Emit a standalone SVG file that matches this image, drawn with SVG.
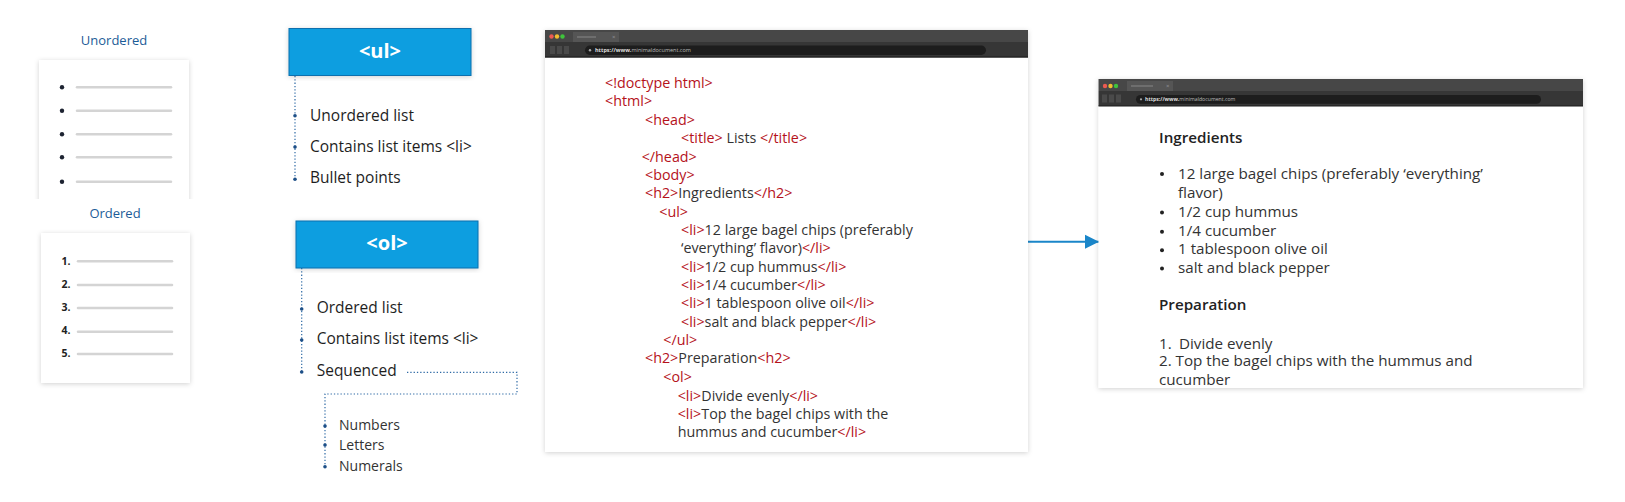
<svg xmlns="http://www.w3.org/2000/svg" width="1625" height="502" viewBox="0 0 1625 502">
<defs>
<style>
.lbl{font-family:"Open Sans","Liberation Sans",sans-serif;font-size:13px;fill:#1c5c97;text-anchor:middle}
.item{font-family:"Open Sans","Liberation Sans",sans-serif;font-size:15.5px;fill:#1e1e1e}
.sub{font-family:"Open Sans","Liberation Sans",sans-serif;font-size:14px;fill:#333}
.tag{font-family:"Open Sans","Liberation Sans",sans-serif;font-size:20px;font-weight:bold;fill:#fff;text-anchor:middle}
.code{font-family:"Open Sans","Liberation Sans",sans-serif;font-size:14.3px;fill:#333;font-weight:500}
.r{fill:#b5121b}
.out{font-family:"Open Sans","Liberation Sans",sans-serif;font-size:15.2px;fill:#333}
.hd{font-weight:600;fill:#222}
.num{font-family:"Open Sans","Liberation Sans",sans-serif;font-size:10.5px;font-weight:700;fill:#222}
.ln{stroke:#d4d4d4;stroke-width:2.5;stroke-linecap:round}
.dot{stroke:#2f6aa5;stroke-width:1.2;stroke-dasharray:1.3 2;fill:none}
.bd{fill:#1d4f87}
.blue{fill:#0a9ee0;stroke:#0a6fae;stroke-width:1}
.card{fill:#fff;filter:url(#sh)}
</style>
<filter id="sh" x="-10%" y="-10%" width="120%" height="120%">
<feDropShadow dx="0" dy="1" stdDeviation="2.5" flood-color="#000" flood-opacity="0.18"/>
</filter>
<marker id="ah" viewBox="0 0 10 10" refX="10" refY="5" markerWidth="7" markerHeight="7.5" orient="auto" markerUnits="strokeWidth">
<path d="M0,0 L10,5 L0,10 Z" fill="#1a86c9"/>
</marker>
</defs>
<rect width="1625" height="502" fill="#fff"/>

<g id="unordered-card">
<rect class="card" x="39" y="60" width="150" height="145"/>
<g fill="#1d2331">
<circle cx="62" cy="87.3" r="2.2"/><circle cx="62" cy="110.7" r="2.2"/><circle cx="62" cy="134.3" r="2.2"/><circle cx="62" cy="157.3" r="2.2"/><circle cx="62" cy="181.7" r="2.2"/>
</g>
<line class="ln" x1="77" y1="87.3" x2="171" y2="87.3"/>
<line class="ln" x1="77" y1="110.7" x2="171" y2="110.7"/>
<line class="ln" x1="77" y1="134.3" x2="171" y2="134.3"/>
<line class="ln" x1="77" y1="157.3" x2="171" y2="157.3"/>
<line class="ln" x1="77" y1="181.7" x2="171" y2="181.7"/>
</g>
<rect x="25" y="199" width="180" height="28" fill="#fff"/>
<g id="unordered-label"><text class="lbl" x="114" y="45">Unordered</text></g>
<g id="ordered-label"><text class="lbl" x="115" y="218">Ordered</text></g>

<g id="ordered-card">
<rect class="card" x="41" y="233" width="149" height="150"/>
<text class="num" x="61.5" y="265">1.</text>
<text class="num" x="61.5" y="288">2.</text>
<text class="num" x="61.5" y="311">3.</text>
<text class="num" x="61.5" y="334">4.</text>
<text class="num" x="61.5" y="357">5.</text>
<line class="ln" x1="78" y1="261.3" x2="172" y2="261.3"/>
<line class="ln" x1="78" y1="285" x2="172" y2="285"/>
<line class="ln" x1="78" y1="308" x2="172" y2="308"/>
<line class="ln" x1="78" y1="331.7" x2="172" y2="331.7"/>
<line class="ln" x1="78" y1="354" x2="172" y2="354"/>
</g>

<g id="connectors">
<path class="dot" d="M295,76 V180"/>
<path class="dot" d="M301.7,268 V372"/>
<path class="dot" d="M407,372.3 H517 V394 H325 V467"/>
<line x1="1028" y1="241.7" x2="1099" y2="241.7" stroke="#1a86c9" stroke-width="2" marker-end="url(#ah)"/>
</g>

<g id="ul-node">
<rect x="289" y="28.5" width="182" height="47" class="blue" filter="url(#sh)"/>
<text class="tag" x="380" y="58">&lt;ul&gt;</text>
</g>
<g id="ul-items">
<circle class="bd" cx="295" cy="115.7" r="1.8"/>
<circle class="bd" cx="295" cy="147" r="1.8"/>
<circle class="bd" cx="295" cy="179.3" r="1.8"/>
<text class="item" x="310" y="120.5">Unordered list</text>
<text class="item" x="310" y="151.5">Contains list items &lt;li&gt;</text>
<text class="item" x="310" y="182.5">Bullet points</text>
</g>

<g id="ol-node">
<rect x="296" y="221" width="182" height="47" class="blue" filter="url(#sh)"/>
<text class="tag" x="387" y="250">&lt;ol&gt;</text>
</g>
<g id="ol-items">
<circle class="bd" cx="301.7" cy="309" r="1.8"/>
<circle class="bd" cx="301.7" cy="340" r="1.8"/>
<circle class="bd" cx="301.7" cy="372" r="1.8"/>
<text class="item" x="316.7" y="313">Ordered list</text>
<text class="item" x="316.7" y="344">Contains list items &lt;li&gt;</text>
<text class="item" x="316.7" y="375.5">Sequenced</text>
</g>
<g id="sub-items">
<circle class="bd" cx="325" cy="426" r="1.8"/>
<circle class="bd" cx="325" cy="445" r="1.8"/>
<circle class="bd" cx="325" cy="466.7" r="1.8"/>
<text class="sub" x="339" y="430">Numbers</text>
<text class="sub" x="339" y="449.5">Letters</text>
<text class="sub" x="339" y="470.5">Numerals</text>
</g>

<g id="code-window">
<rect x="545" y="30" width="483" height="422" fill="#fff" filter="url(#sh)"/>
<rect x="545" y="30" width="483" height="12" fill="#474747"/>
<rect x="545" y="42" width="483" height="15.5" fill="#363636"/>
<line x1="545" y1="57" x2="1028" y2="57" stroke="#1a1a1a" stroke-width="1"/>
<circle cx="551.5" cy="36.5" r="2.2" fill="#ec5b52"/>
<circle cx="557" cy="36.5" r="2.2" fill="#f2bd2f"/>
<circle cx="562.5" cy="36.5" r="2.2" fill="#3fc43c"/>
<rect x="573" y="32" width="46" height="10" fill="#555"/>
<line x1="577" y1="37" x2="596" y2="37" stroke="#888" stroke-width="1"/>
<text x="612" y="39" font-family="Open Sans, sans-serif" font-size="6" fill="#999">×</text>
<rect x="550" y="46" width="5" height="8" fill="#4a4a4a"/>
<rect x="557" y="46" width="5" height="8" fill="#4a4a4a"/>
<rect x="564" y="46" width="5" height="8" fill="#4a4a4a"/>
<rect x="585" y="45.5" width="401" height="9.5" rx="4.75" fill="#1d1d1d"/>
<circle cx="590" cy="50.3" r="1.2" fill="#aaa"/>
<text x="595" y="52.3" font-family="Open Sans, sans-serif" font-size="5.5" fill="#bbb"><tspan font-weight="bold" fill="#ddd">https://www.</tspan>minimaldocument.com</text>
<text class="code" x="605" y="88.2"><tspan class="r">&lt;!doctype html&gt;</tspan></text>
<text class="code" x="605" y="105.8"><tspan class="r">&lt;html&gt;</tspan></text>
<text class="code" x="645" y="124.8"><tspan class="r">&lt;head&gt;</tspan></text>
<text class="code" x="681" y="143.2"><tspan class="r">&lt;title&gt;</tspan> Lists <tspan class="r">&lt;/title&gt;</tspan></text>
<text class="code" x="641.7" y="161.5"><tspan class="r">&lt;/head&gt;</tspan></text>
<text class="code" x="645" y="179.8"><tspan class="r">&lt;body&gt;</tspan></text>
<text class="code" x="645" y="198.2"><tspan class="r">&lt;h2&gt;</tspan>Ingredients<tspan class="r">&lt;/h2&gt;</tspan></text>
<text class="code" x="659.3" y="216.5"><tspan class="r">&lt;ul&gt;</tspan></text>
<text class="code" x="681" y="234.8"><tspan class="r">&lt;li&gt;</tspan>12 large bagel chips (preferably</text>
<text class="code" x="681" y="253.2">‘everything’ flavor)<tspan class="r">&lt;/li&gt;</tspan></text>
<text class="code" x="681" y="271.5"><tspan class="r">&lt;li&gt;</tspan>1/2 cup hummus<tspan class="r">&lt;/li&gt;</tspan></text>
<text class="code" x="681" y="289.8"><tspan class="r">&lt;li&gt;</tspan>1/4 cucumber<tspan class="r">&lt;/li&gt;</tspan></text>
<text class="code" x="681" y="308.2"><tspan class="r">&lt;li&gt;</tspan>1 tablespoon olive oil<tspan class="r">&lt;/li&gt;</tspan></text>
<text class="code" x="681" y="326.5"><tspan class="r">&lt;li&gt;</tspan>salt and black pepper<tspan class="r">&lt;/li&gt;</tspan></text>
<text class="code" x="663.3" y="344.8"><tspan class="r">&lt;/ul&gt;</tspan></text>
<text class="code" x="645" y="363.2"><tspan class="r">&lt;h2&gt;</tspan>Preparation<tspan class="r">&lt;h2&gt;</tspan></text>
<text class="code" x="663.3" y="381.5"><tspan class="r">&lt;ol&gt;</tspan></text>
<text class="code" x="677.7" y="400.8"><tspan class="r">&lt;li&gt;</tspan>Divide evenly<tspan class="r">&lt;/li&gt;</tspan></text>
<text class="code" x="677.7" y="419.2"><tspan class="r">&lt;li&gt;</tspan>Top the bagel chips with the</text>
<text class="code" x="677.7" y="437.2">hummus and cucumber<tspan class="r">&lt;/li&gt;</tspan></text>
</g>

<g id="render-window">
<rect x="1098.5" y="79" width="484.5" height="309" fill="#fff" filter="url(#sh)"/>
<rect x="1098.5" y="79" width="484.5" height="12" fill="#474747"/>
<rect x="1098.5" y="91" width="484.5" height="15" fill="#363636"/>
<line x1="1098.5" y1="106" x2="1583" y2="106" stroke="#1a1a1a" stroke-width="1"/>
<circle cx="1105" cy="86" r="2.2" fill="#ec5b52"/>
<circle cx="1110.5" cy="86" r="2.2" fill="#f2bd2f"/>
<circle cx="1116" cy="86" r="2.2" fill="#3fc43c"/>
<rect x="1127" y="81" width="46" height="10" fill="#555"/>
<line x1="1131" y1="86" x2="1153" y2="86" stroke="#888" stroke-width="1"/>
<text x="1166" y="88" font-family="Open Sans, sans-serif" font-size="6" fill="#999">×</text>
<rect x="1102" y="94.5" width="5" height="8" fill="#4a4a4a"/>
<rect x="1109" y="94.5" width="5" height="8" fill="#4a4a4a"/>
<rect x="1116" y="94.5" width="5" height="8" fill="#4a4a4a"/>
<rect x="1136" y="95" width="405" height="8.7" rx="4.35" fill="#1d1d1d"/>
<circle cx="1141" cy="99.3" r="1.1" fill="#aaa"/>
<text x="1145" y="101.3" font-family="Open Sans, sans-serif" font-size="5.2" fill="#bbb"><tspan font-weight="bold" fill="#ddd">https://www.</tspan>minimaldocument.com</text>
<text class="out hd" x="1159" y="143.3">Ingredients</text>
<g fill="#222">
<circle cx="1162" cy="174" r="2"/><circle cx="1162" cy="212.5" r="2"/><circle cx="1162" cy="231.8" r="2"/><circle cx="1162" cy="250.2" r="2"/><circle cx="1162" cy="268.5" r="2"/>
</g>
<text class="out" x="1178" y="179">12 large bagel chips (preferably ‘everything’</text>
<text class="out" x="1178" y="198">flavor)</text>
<text class="out" x="1178" y="216.7">1/2 cup hummus</text>
<text class="out" x="1178" y="236">1/4 cucumber</text>
<text class="out" x="1178" y="254.3">1 tablespoon olive oil</text>
<text class="out" x="1178" y="272.7">salt and black pepper</text>
<text class="out hd" x="1159" y="310.3">Preparation</text>
<text class="out" x="1159" y="348.5">1.<tspan x="1179">Divide evenly</tspan></text>
<text class="out" x="1159" y="366.3">2. Top the bagel chips with the hummus and</text>
<text class="out" x="1159" y="385">cucumber</text>
</g>
</svg>
